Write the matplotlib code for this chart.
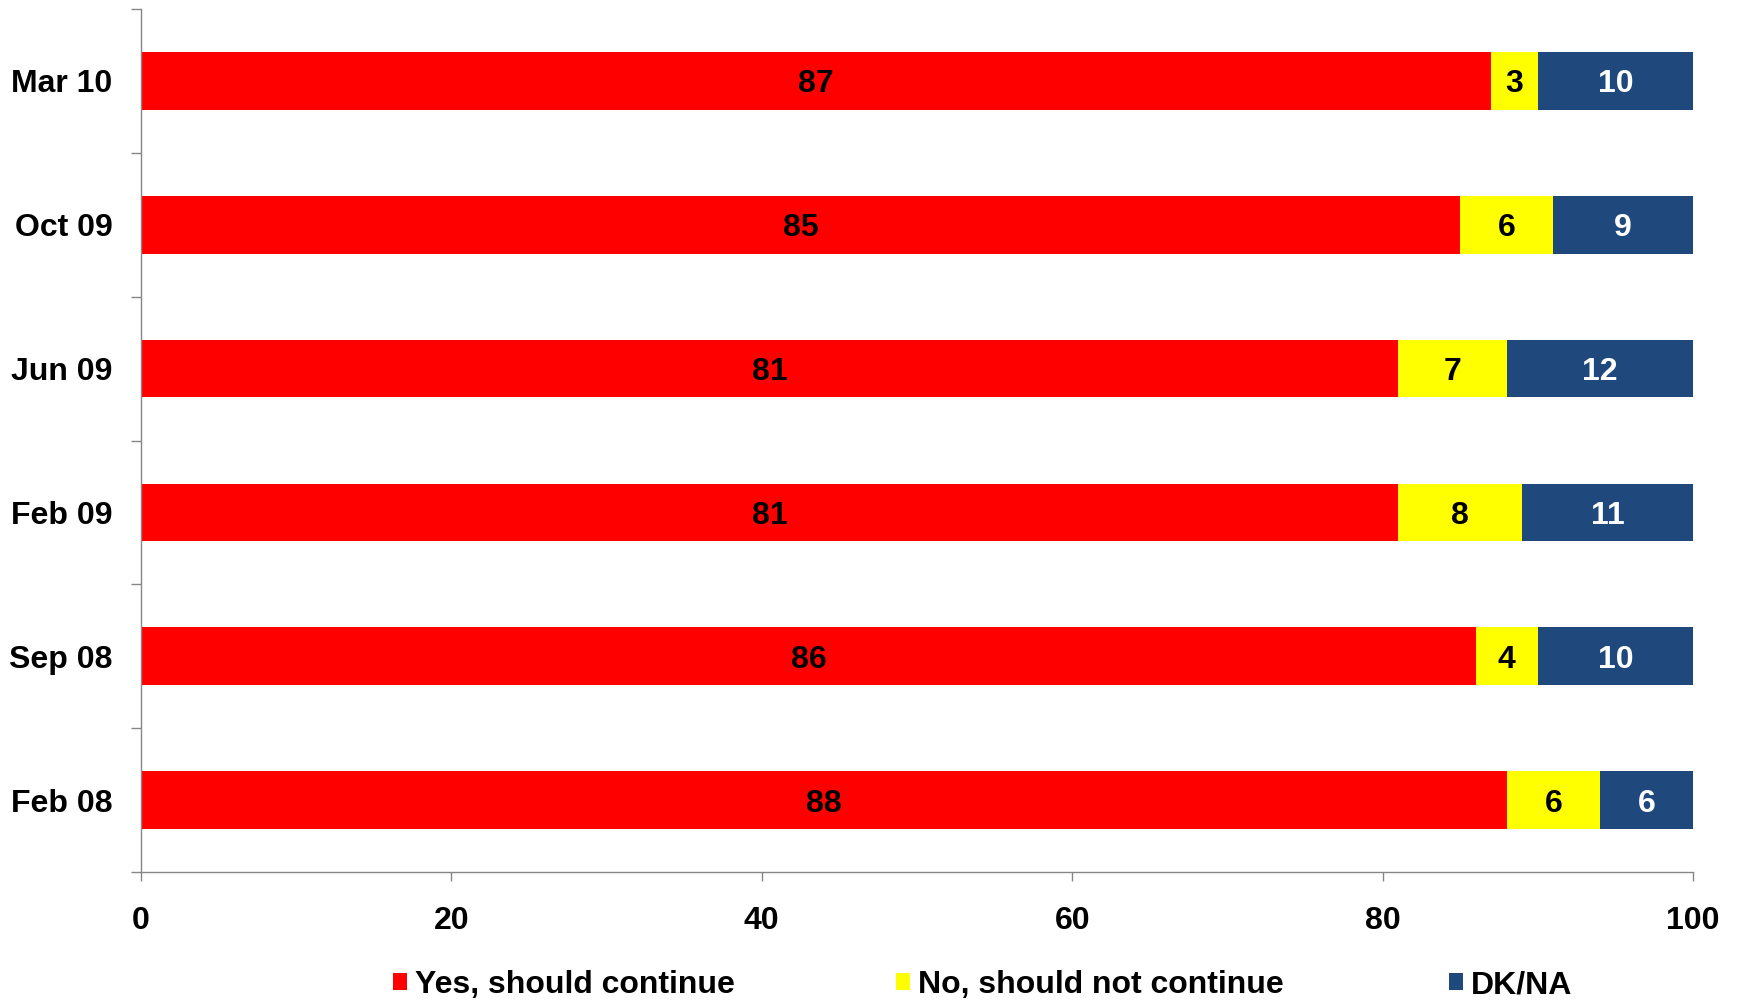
import matplotlib
matplotlib.use("Agg")
import matplotlib.pyplot as plt
from matplotlib.patches import Patch
from matplotlib.ticker import FixedLocator
import numpy as np

# Survey waves, bottom to top
periods = ["Feb 08", "Sep 08", "Feb 09", "Jun 09", "Oct 09", "Mar 10"]
yes_continue = [88, 86, 81, 81, 85, 87]
no_continue = [6, 4, 8, 7, 6, 3]
dk_na = [6, 10, 11, 12, 9, 10]

series_names = ["Yes, should continue", "No, should not continue", "DK/NA"]
series_colors = ["#FF0000", "#FFFF00", "#1F497D"]
label_colors = ["black", "black", "white"]
x_ticks = [0, 20, 40, 60, 80, 100]

plt.rcParams["font.family"] = ["Liberation Sans", "DejaVu Sans"]
plt.rcParams["font.weight"] = "bold"

FS = 23

fig = plt.figure(figsize=(17.38, 10.0), dpi=100)
ax = fig.add_axes([141 / 1738, 1 - 872 / 1000, (1693 - 141) / 1738, (872 - 9) / 1000])

y = np.arange(len(periods))
left = np.zeros(len(periods))
for vals, color, tcol in zip([yes_continue, no_continue, dk_na], series_colors, label_colors):
    vals = np.array(vals, dtype=float)
    ax.barh(y, vals, left=left, height=0.40, color=color, edgecolor="none")
    for yi, l, v in zip(y, left, vals):
        ax.text(l + v / 2, yi, f"{int(v)}", ha="center", va="center_baseline",
                fontsize=FS, fontweight="bold", color=tcol)
    left += vals

ax.set_xlim(0, 100)
ax.set_ylim(-0.5, len(periods) - 0.5)
ax.set_xticks(x_ticks)
ax.set_xticklabels([str(t) for t in x_ticks], fontsize=FS, fontweight="bold")
ax.set_yticks(y)
ax.set_yticklabels(periods, fontsize=FS, fontweight="bold")
ax.yaxis.set_minor_locator(FixedLocator(np.arange(-0.5, len(periods), 1.0)))

spine_color = "#868686"
for side in ["top", "right"]:
    ax.spines[side].set_visible(False)
for side in ["left", "bottom"]:
    ax.spines[side].set_color(spine_color)
    ax.spines[side].set_linewidth(1.0)

ax.tick_params(axis="y", which="major", length=0, pad=20.5)
ax.tick_params(axis="y", which="minor", length=7, width=1.0, color=spine_color, direction="out")
ax.tick_params(axis="x", which="major", length=6.5, width=1.0, color=spine_color,
               direction="out", pad=18)

# Legend entries spaced evenly along the bottom
legend_x = [393, 896, 1449]
for name, color, lx in zip(series_names, series_colors, legend_x):
    leg = fig.legend(handles=[Patch(facecolor=color, edgecolor="none", label=name)],
                     loc="center left", bbox_to_anchor=(lx / 1738, 1 - 985 / 1000),
                     frameon=False, fontsize=FS, handlelength=0.45, handleheight=0.45,
                     handletextpad=0.25, borderpad=0, borderaxespad=0)
    for t in leg.get_texts():
        t.set_fontweight("bold")

fig.savefig("out.png", dpi=100)
